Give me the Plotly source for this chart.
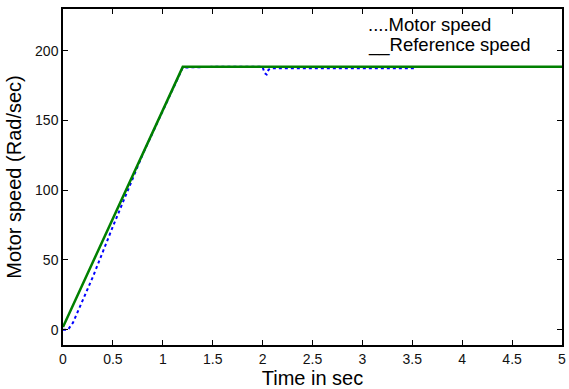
import plotly.graph_objects as go

ref_t = [0, 1.2, 5.0]
ref_v = [2, 188.5, 188.5]

motor_t = [0, 0.05, 0.1, 0.15, 0.2, 0.3, 0.5, 0.8, 1.0, 1.2, 1.5, 2.0, 2.02, 2.04, 2.06, 2.1, 2.5, 3.0, 3.52]
motor_v = [0, 0, 5, 13, 22, 38, 74, 126, 157, 188, 188.5, 188.5, 184, 183, 186.5, 187.5, 187.5, 187.5, 187.5]

x_ticks = [0, 0.5, 1, 1.5, 2, 2.5, 3, 3.5, 4, 4.5, 5]
x_labels = ["0", "0.5", "1", "1.5", "2", "2.5", "3", "3.5", "4", "4.5", "5"]
y_ticks = [0, 50, 100, 150, 200]

legend_lines = ["....Motor speed", "__Reference speed"]

fig = go.Figure()
fig.add_trace(go.Scatter(x=motor_t, y=motor_v, mode="lines",
                         line=dict(color="#0000ff", width=2, dash="dot"), name="Motor speed"))
fig.add_trace(go.Scatter(x=ref_t, y=ref_v, mode="lines",
                         line=dict(color="#008000", width=2.5), name="Reference speed"))

axis_common = dict(showline=True, linecolor="black", linewidth=1.5, mirror="ticks",
                   ticks="inside", ticklen=5, tickcolor="black", showgrid=False, zeroline=False,
                   tickfont=dict(family="Arial", size=14, color="#111"))
fig.update_xaxes(range=[0, 5], tickvals=x_ticks, ticktext=x_labels,
                 title=dict(text="Time in sec", font=dict(family="Arial", size=20, color="black"), standoff=2),
                 **axis_common)
fig.update_yaxes(range=[-11, 230], tickvals=y_ticks,
                 title=dict(text="Motor speed (Rad/sec)", font=dict(family="Arial", size=20, color="black"), standoff=8),
                 **axis_common)

for i, txt in enumerate(legend_lines):
    fig.add_annotation(x=3.05, y=[0.953, 0.894][i], xref="x", yref="paper", xanchor="left", yanchor="middle",
                       text=txt, showarrow=False, align="left", borderpad=0,
                       font=dict(family="Arial", size=18.5, color="black"))

fig.update_layout(width=569, height=389, margin=dict(l=63, r=3, t=9, b=44),
                  plot_bgcolor="white", paper_bgcolor="white", showlegend=False)
fig.write_html("out.html")
